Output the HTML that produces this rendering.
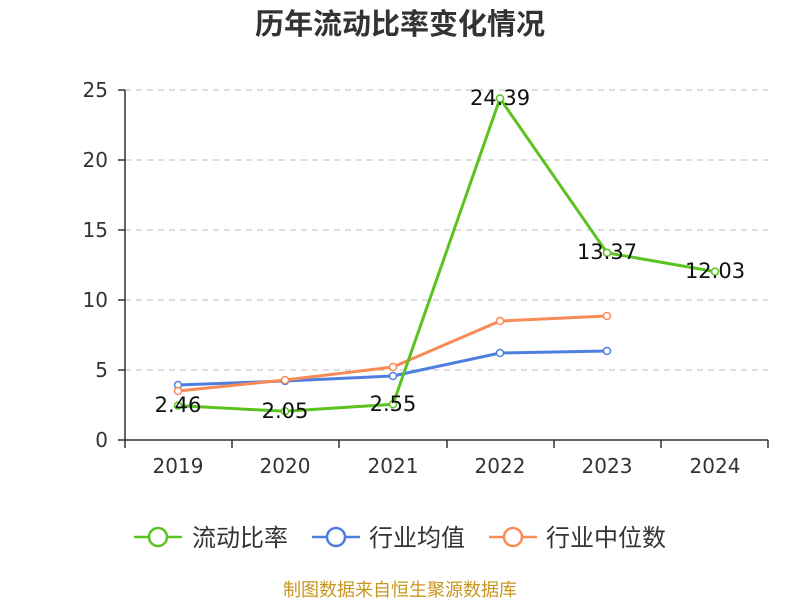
<!DOCTYPE html>
<html><head><meta charset="utf-8"><style>
body{margin:0;background:#fff;}
svg text{font-family:"DejaVu Sans","Noto Sans CJK SC",sans-serif;}
.cjk{font-family:"Noto Sans CJK SC",sans-serif;}
</style></head><body>
<svg width="800" height="600" xmlns="http://www.w3.org/2000/svg">
<text class="cjk" x="400" y="34" text-anchor="middle" font-size="29" font-weight="bold" fill="#333">历年流动比率变化情况</text>
<g stroke="#bbb" stroke-dasharray="6,5" stroke-width="1">
<line x1="125" y1="90" x2="768" y2="90"/><line x1="125" y1="160" x2="768" y2="160"/>
<line x1="125" y1="230" x2="768" y2="230"/><line x1="125" y1="300" x2="768" y2="300"/>
<line x1="125" y1="370" x2="768" y2="370"/></g>
<g stroke="#333" stroke-width="1.5">
<line x1="125" y1="90" x2="125" y2="440"/><line x1="125" y1="440" x2="768" y2="440"/>
<line x1="118" y1="90" x2="125" y2="90"/><line x1="118" y1="160" x2="125" y2="160"/><line x1="118" y1="230" x2="125" y2="230"/><line x1="118" y1="300" x2="125" y2="300"/><line x1="118" y1="370" x2="125" y2="370"/><line x1="118" y1="440" x2="125" y2="440"/>
<line x1="125" y1="440" x2="125" y2="448"/><line x1="232" y1="440" x2="232" y2="448"/><line x1="339" y1="440" x2="339" y2="448"/><line x1="447" y1="440" x2="447" y2="448"/><line x1="554" y1="440" x2="554" y2="448"/><line x1="661" y1="440" x2="661" y2="448"/><line x1="768" y1="440" x2="768" y2="448"/>
</g>
<g font-size="20" fill="#333" text-anchor="end">
<text x="108" y="97">25</text><text x="108" y="167">20</text><text x="108" y="237">15</text><text x="108" y="307">10</text><text x="108" y="377">5</text><text x="108" y="447">0</text></g>
<g font-size="20" fill="#333" text-anchor="middle">
<text x="178" y="473">2019</text><text x="285" y="473">2020</text><text x="393" y="473">2021</text><text x="500" y="473">2022</text><text x="607" y="473">2023</text><text x="715" y="473">2024</text></g>
<polyline fill="none" stroke="#4e7fe0" stroke-width="3" points="178,385 285,381 393,376 500,353 607,351"/>
<polyline fill="none" stroke="#f98b56" stroke-width="3" points="178,391 285,380 393,367 500,321 607,316"/>
<polyline fill="none" stroke="#5cc221" stroke-width="3" points="178,405.6 285,411.3 393,404.3 500,98.5 607,252.8 715,271.6"/>
<g fill="#fff" stroke-width="1.5">
<g stroke="#4e7fe0"><circle cx="178" cy="385" r="3.5"/><circle cx="285" cy="381" r="3.5"/><circle cx="393" cy="376" r="3.5"/><circle cx="500" cy="353" r="3.5"/><circle cx="607" cy="351" r="3.5"/></g>
<g stroke="#f98b56"><circle cx="178" cy="391" r="3.5"/><circle cx="285" cy="380" r="3.5"/><circle cx="393" cy="367" r="3.5"/><circle cx="500" cy="321" r="3.5"/><circle cx="607" cy="316" r="3.5"/></g>
<g stroke="#5cc221"><circle cx="178" cy="405.6" r="3.5"/><circle cx="285" cy="411.3" r="3.5"/><circle cx="393" cy="404.3" r="3.5"/><circle cx="500" cy="98.5" r="3.5"/><circle cx="607" cy="252.8" r="3.5"/><circle cx="715" cy="271.6" r="3.5"/></g>
</g>
<g font-size="21" fill="#111" text-anchor="middle">
<text x="178" y="412">2.46</text><text x="285" y="418">2.05</text><text x="393" y="411">2.55</text><text x="500" y="105">24.39</text><text x="607" y="259">13.37</text><text x="715" y="278">12.03</text></g>
<g stroke-width="2.5" fill="#fff">
<line x1="134" y1="537" x2="182" y2="537" stroke="#5cc221"/><circle cx="158" cy="537" r="9" stroke="#5cc221"/>
<line x1="312" y1="537" x2="360" y2="537" stroke="#4e7fe0"/><circle cx="336" cy="537" r="9" stroke="#4e7fe0"/>
<line x1="489" y1="537" x2="537" y2="537" stroke="#f98b56"/><circle cx="513" cy="537" r="9" stroke="#f98b56"/>
</g>
<g font-size="24" fill="#333">
<text class="cjk" x="192" y="546">流动比率</text><text class="cjk" x="369" y="546">行业均值</text><text class="cjk" x="546" y="546">行业中位数</text></g>
<text class="cjk" x="400" y="596" text-anchor="middle" font-size="18" fill="#c8961e">制图数据来自恒生聚源数据库</text>
</svg>
</body></html>
